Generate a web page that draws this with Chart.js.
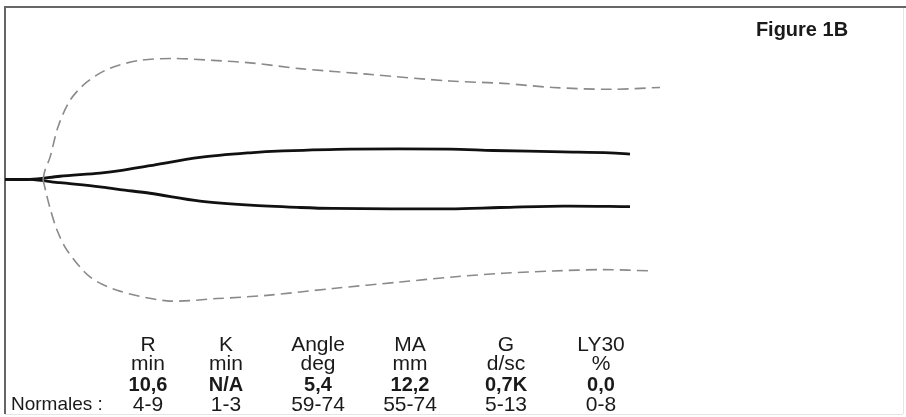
<!DOCTYPE html>
<html>
<head>
<meta charset="utf-8">
<script src="https://cdn.jsdelivr.net/npm/chart.js@4"></script>
<style>
  html, body { margin: 0; padding: 0; background: #fff; }
  #wrap { width: 906px; height: 417px; }
</style>
</head>
<body>
<div id="wrap"><canvas id="teg"></canvas></div>
<script>
// Tracé TEG : temps (min, échelle de la figure) et amplitude (mm, centrée sur 0)
const patientTime = [0, 2.5, 5.5, 9.5, 11.5, 14.5, 19.5, 24.5, 27.8, 34.5, 44.5, 48.8, 55.8, 60.5, 62.5];
const patientUpper = [0, 0, 0.7, 1.4, 1.9, 3.0, 4.8, 5.8, 6.2, 6.6, 6.6, 6.3, 6.0, 5.8, 5.5];
const patientLowerTime = [0, 2.5, 5.5, 9.5, 11.5, 14.5, 19.5, 24.5, 29.5, 32.8, 44.5, 49.5, 55.8, 62.5];
const patientLower = [0, 0, -0.7, -1.6, -2.2, -3.0, -4.7, -5.6, -6.1, -6.3, -6.4, -6.1, -5.8, -5.9];

// Enveloppe normale (pointillés)
const normalUpperTime = [3.8, 4.0, 4.5, 5.3, 6.5, 8.2, 10.5, 13.5, 16.8, 20.8, 24.8, 29.5, 36.2, 44.5, 49.8, 54.8, 60.5, 65.5];
const normalUpper = [0, 2.0, 4.8, 11.4, 17.2, 21.2, 24.2, 25.9, 26.3, 25.9, 25.3, 24.1, 22.9, 21.4, 20.9, 20.0, 19.6, 20.0];
const normalLowerTime = [3.8, 4.1, 4.5, 5.2, 6.2, 8.5, 11.2, 16.2, 21.2, 26.2, 32.8, 39.5, 44.8, 49.8, 54.8, 59.8, 64.8];
const normalLower = [0, -2.8, -6.2, -11.0, -15.4, -21.2, -24.1, -26.4, -25.9, -25.2, -23.7, -22.3, -21.2, -20.4, -19.9, -19.6, -19.9];

// Tableau des paramètres
const paramNames = ["R", "K", "Angle", "MA", "G", "LY30"];
const paramUnits = ["min", "min", "deg", "mm", "d/sc", "%"];
const paramValues = ["10,6", "N/A", "5,4", "12,2", "0,7K", "0,0"];
const paramNormals = ["4-9", "1-3", "59-74", "55-74", "5-13", "0-8"];
const columnX = [148, 226, 318, 410, 506, 601];

function toPoints(xs, ys) {
  return xs.map((x, i) => ({ x: x, y: ys[i] }));
}

const solid = { borderColor: "#111", borderWidth: 2.8, pointRadius: 0, tension: 0.3, showLine: true, fill: false };
const dashed = { borderColor: "#8a8a8a", borderWidth: 1.6, borderDash: [11, 6], pointRadius: 0, tension: 0.3, showLine: true, fill: false };

// cadre + textes
const tegDecor = {
  id: "tegDecor",
  beforeDraw(chart) {
    const c = chart.ctx;
    c.save();
    c.fillStyle = "#fff";
    c.fillRect(0, 0, chart.width, chart.height);
    c.strokeStyle = "#e4e4e4";
    c.lineWidth = 1;
    c.beginPath();
    c.moveTo(5, 414.5);
    c.lineTo(903, 414.5);
    c.moveTo(903.5, 8);
    c.lineTo(903.5, 414);
    c.stroke();
    c.strokeStyle = "#666";
    c.lineWidth = 2;
    c.beginPath();
    c.moveTo(906, 7);
    c.lineTo(5, 7);
    c.lineTo(5, 414);
    c.stroke();
    c.restore();
  },
  afterDraw(chart) {
    const c = chart.ctx;
    const regular = "21px 'Liberation Sans', Arial, sans-serif";
    const bold = "bold 20px 'Liberation Sans', Arial, sans-serif";
    c.save();
    c.fillStyle = "#1a1a1a";
    c.textAlign = "center";
    c.textBaseline = "alphabetic";
    c.font = "bold 20px 'Liberation Sans', Arial, sans-serif";
    c.fillText("Figure 1B", 802, 36);
    paramNames.forEach((name, i) => {
      c.font = regular;
      c.fillText(name, columnX[i], 351);
      c.fillText(paramUnits[i], columnX[i], 370);
      c.font = bold;
      c.fillText(paramValues[i], columnX[i], 391);
      c.font = regular;
      c.fillText(paramNormals[i], columnX[i], 411);
    });
    c.textAlign = "left";
    c.font = "19px 'Liberation Sans', Arial, sans-serif";
    c.fillText("Normales :", 11, 410);
    c.restore();
  }
};

new Chart(document.getElementById("teg"), {
  type: "scatter",
  data: {
    datasets: [
      Object.assign({ label: "Normale haut", data: toPoints(normalUpperTime, normalUpper) }, dashed),
      Object.assign({ label: "Normale bas", data: toPoints(normalLowerTime, normalLower) }, dashed),
      Object.assign({ label: "Patient haut", data: toPoints(patientTime, patientUpper) }, solid),
      Object.assign({ label: "Patient bas", data: toPoints(patientLowerTime, patientLower) }, solid),
    ],
  },
  options: {
    responsive: true,
    maintainAspectRatio: false,
    animation: false,
    layout: { padding: { left: 5, top: 7, right: 3, bottom: 3 } },
    plugins: { legend: { display: false }, tooltip: { enabled: false } },
    scales: {
      x: { type: "linear", min: 0, max: 89.8, display: false },
      y: { type: "linear", min: -51.0, max: 37.5, display: false },
    },
  },
  plugins: [tegDecor],
});
</script>
</body>
</html>
